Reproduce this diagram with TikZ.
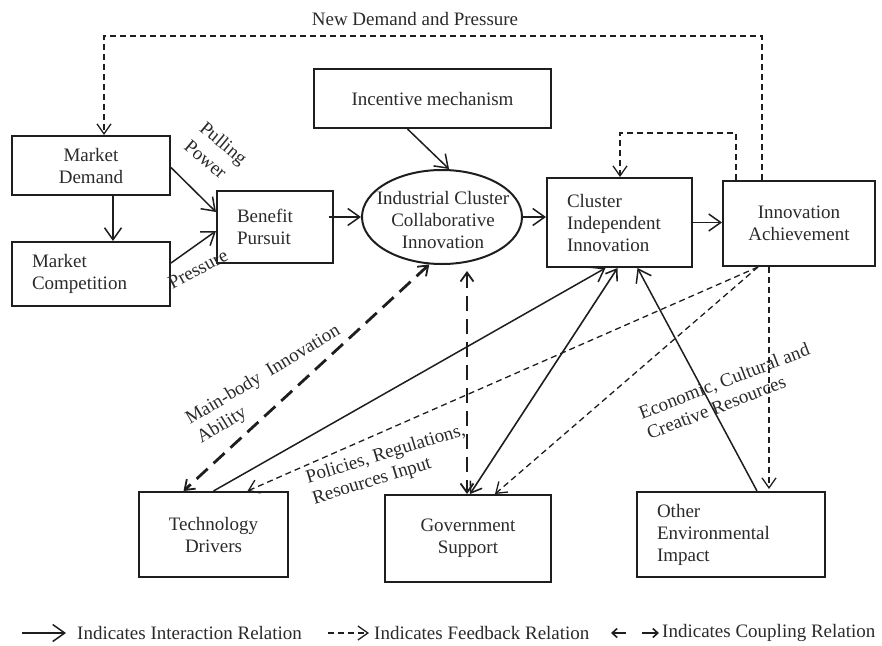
\documentclass[tikz,border=0pt]{standalone}
\usepackage{fontspec}
\setmainfont{Liberation Serif}
\usetikzlibrary{arrows.meta,shapes.geometric}
\definecolor{ink}{HTML}{1E1E1E}
\definecolor{txt}{HTML}{2A2A2A}
\begin{document}
\begin{tikzpicture}[x=1pt,y=-1pt,
  every node/.style={font=\fontsize{19}{22}\selectfont, text=txt},
  box/.style={draw=ink, line width=2pt, inner sep=0pt, align=center},
  lbox/.style={box, align=left, inner xsep=20pt, inner ysep=0pt, text width=#1},
  bub/.style={draw=ink, line width=2pt, ellipse, inner sep=0pt},
  tipopen/.style={-{Straight Barb[length=12pt,width=17pt,line width=1.5pt]}},
  int/.style={draw=ink, line width=1.5pt, tipopen},
  fb/.style={draw=ink, line width=1.3pt, dash pattern=on 6pt off 4pt,
    -{Straight Barb[length=10pt,width=14pt,line width=1.3pt]}},
  cpl/.style={draw=ink, line width=1.6pt,
    {Straight Barb[length=10pt,width=14pt,line width=1.6pt]}-{Straight Barb[length=10pt,width=14pt,line width=1.6pt]}},
  cpld/.style={draw=ink, line width=2.8pt, dash pattern=on 15pt off 8pt,
    {Straight Barb[length=9pt,width=13pt,line width=1.8pt]}-{Straight Barb[length=9pt,width=13pt,line width=1.8pt]}},
  lab/.style={align=left, inner sep=0pt}
]
\useasboundingbox (0,0) rectangle (882,645);

% ---------- blocks ----------
\node[box, minimum width=158pt, minimum height=59pt] (md) at (91,165.5) {Market\\Demand};
\node[lbox=118pt, minimum height=64pt] (mc) at (91,274) {Market\\Competition};
\node[lbox=76pt, minimum height=72pt] (bp) at (275,227) {Benefit\\Pursuit};
\node[box, minimum width=237pt, minimum height=59pt] (im) at (432.5,98.5) {Incentive mechanism};
\node[bub, minimum width=160pt, minimum height=94pt] (ic) at (442,217) {};
\node[align=center, inner sep=0pt] (ictext) at (443,220) {Industrial Cluster\\Collaborative\\Innovation};
\node[lbox=105pt, minimum height=89pt] (ci) at (619.5,222.5) {Cluster\\Independent\\Innovation};
\node[box, minimum width=152pt, minimum height=85pt] (ia) at (799,223.5) {Innovation\\Achievement};
\node[box, minimum width=149pt, minimum height=85pt] (td) at (213.5,534.5) {Technology\\Drivers};
\node[box, minimum width=166pt, minimum height=87pt] (gs) at (468,538.5) {Government\\Support};
\node[lbox=148pt, minimum height=85pt] (oe) at (731,534.5) {Other\\Environmental\\Impact};

% ---------- feedback loops on top ----------
\coordinate (tR) at (762,36);
\coordinate (tL) at (104,36);
\draw[fb] (ia.north -| tR) -- (tR) -- (tL) -- (md.north -| tL);
\node[inner sep=0pt] (newdem) at (415,19) {New Demand and Pressure};

\coordinate (sR) at (736,133);
\coordinate (sL) at (620,133);
\draw[fb] (ia.north -| sR) -- (sR) -- (sL) -- (ci.north -| sL);

% ---------- main chain ----------
\draw[int] ([xshift=22pt]md.south) -- ([xshift=22pt]mc.north);
\draw[int] ([yshift=-2pt]md.east) -- ([yshift=15pt]bp.west);
\draw[int] ([yshift=11pt]mc.east) -- ([yshift=-4pt]bp.west);
\draw[int] ([xshift=-5pt]ic.west -| bp.east) -- (ic.west);
\draw[int] ([xshift=-25pt]im.south) -- ([xshift=7pt]ic.north);
\draw[int] (ic.east) -- (ci.west |- ic.east);
\draw[int] (ci.east) -- (ia.west |- ci.east);

\node[lab, rotate=-40] (pull) at (216,152) {Pulling\\[2pt]Power};
\node[lab, rotate=28] (press) at (198,269) {Pressure};

% ---------- lower relations ----------
\coordinate (vtop) at (467,271);
\draw[cpld] (ic.255) -- ([xshift=-30pt]td.north);
\draw[cpld] (vtop) -- (gs.north -| vtop);

\draw[int] (td.north) -- ([xshift=-14pt]ci.south);
\draw[cpl] ([xshift=2pt]gs.north) -- ([xshift=-2pt]ci.south);
\draw[int] ([xshift=26pt]oe.north) -- ([xshift=18pt]ci.south);

\draw[fb] ([xshift=-41pt]ia.south) -- ([xshift=34pt]td.north);
\draw[fb] ([xshift=-41pt]ia.south) -- ([xshift=27pt]gs.north);
\draw[fb] ([xshift=-30pt]ia.south) -- ([xshift=-30pt,yshift=2pt]ia.south |- oe.north);

\node[lab, rotate=31] (mbia) at (269,385) {Main-body~ Innovation\\Ability};
\node[lab, rotate=17] (pol) at (389,465) {Policies, Regulations,\\Resources Input};
\node[lab, rotate=21] (eco) at (728,391) {Economic, Cultural and\\Creative Resources};

% ---------- legend ----------
\coordinate (l1a) at (22,633);  \coordinate (l1b) at (66,633);
\coordinate (l2a) at (328,633); \coordinate (l2b) at (369,633);
\coordinate (l3a) at (626,633); \coordinate (l3b) at (611,633);
\coordinate (l3c) at (642,633); \coordinate (l3d) at (659,633);
\draw[int] (l1a) -- (l1b);
\draw[fb] (l2a) -- (l2b);
\draw[draw=ink, line width=1.6pt, -{Straight Barb[length=5pt,width=9pt,line width=1.6pt]}] (l3a) -- (l3b);
\draw[draw=ink, line width=1.6pt, -{Straight Barb[length=5pt,width=9pt,line width=1.6pt]}] (l3c) -- (l3d);
\node[anchor=west, inner sep=0pt] (leg1) at (77,633) {Indicates Interaction Relation};
\node[anchor=west, inner sep=0pt] (leg2) at (374,633) {Indicates Feedback Relation};
\node[anchor=west, inner sep=0pt] (leg3) at (662,633) {Indicates Coupling Relation};
\end{tikzpicture}
\end{document}
